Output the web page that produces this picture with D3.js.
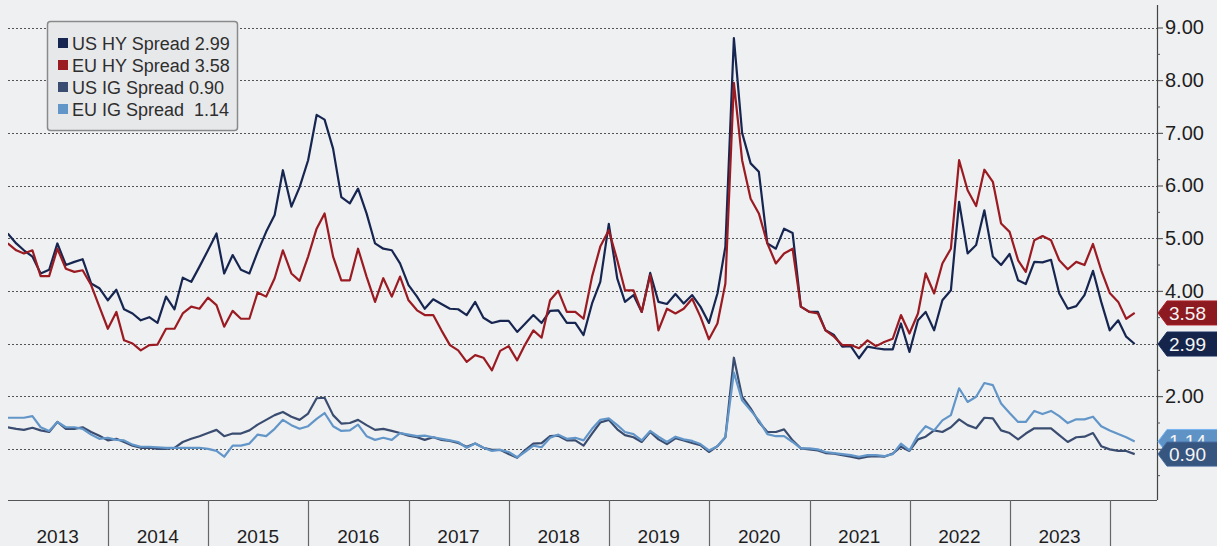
<!DOCTYPE html>
<html><head><meta charset="utf-8">
<script src="https://cdn.jsdelivr.net/npm/d3@7"></script>
<style>
html,body{margin:0;padding:0;background:#eff0f2;}
svg{display:block;font-family:"Liberation Sans",Arial,sans-serif;}
</style></head><body>
<svg id="chart" width="1217" height="546"></svg>
<script>
// ---- DATA (month-end values, Dec 2012 .. Mar 2024) ----
const firstMonth = {year: 2012, month: 12};
const usHY = [5.09,4.90,4.77,4.65,4.33,4.40,4.90,4.49,4.55,4.60,4.14,4.05,
3.82,4.02,3.65,3.57,3.44,3.50,3.39,3.89,3.65,4.25,4.17,4.46,
4.77,5.09,4.33,4.68,4.40,4.33,4.74,5.12,5.44,6.29,5.60,5.97,
6.48,7.34,7.25,6.70,5.78,5.66,5.94,5.47,4.90,4.80,4.77,4.52,
4.11,3.89,3.66,3.84,3.75,3.66,3.65,3.54,3.79,3.49,3.39,3.43,
3.43,3.22,3.37,3.54,3.39,3.62,3.63,3.39,3.39,3.16,3.76,4.17,
5.27,4.23,3.79,3.92,3.60,4.34,3.79,3.75,3.94,3.76,3.92,3.70,
3.39,3.95,4.84,8.80,7.00,6.42,6.26,4.90,4.80,5.18,5.10,3.70,
3.60,3.60,3.25,3.16,2.94,2.95,2.72,2.94,2.91,2.89,2.89,3.38,
2.84,3.44,3.60,3.25,3.82,4.01,5.69,4.71,4.87,5.53,4.65,4.49,
4.70,4.20,4.13,4.55,4.54,4.59,3.95,3.66,3.71,3.92,4.38,3.79,
3.25,3.44,3.13,2.99];
const euHY = [4.90,4.77,4.71,4.77,4.28,4.28,4.80,4.42,4.36,4.39,4.11,3.70,
3.28,3.60,3.06,3.00,2.87,2.97,2.98,3.28,3.28,3.57,3.70,3.66,
3.87,3.73,3.32,3.62,3.47,3.47,3.97,3.89,4.24,4.77,4.33,4.19,
4.65,5.18,5.47,4.65,4.20,4.20,4.80,4.27,3.79,4.24,3.89,4.27,
3.82,3.63,3.54,3.54,3.25,2.97,2.87,2.65,2.78,2.73,2.49,2.86,
2.95,2.68,2.97,3.25,3.11,3.82,4.00,3.60,3.60,3.47,4.27,4.84,
5.15,4.58,4.01,4.01,3.60,4.30,3.25,3.66,3.57,3.66,3.85,3.51,
3.08,3.38,4.14,7.95,6.48,5.75,5.47,4.90,4.52,4.71,4.80,3.70,
3.60,3.57,3.25,3.13,2.97,2.97,2.91,3.06,2.95,3.03,3.09,3.54,
3.19,3.57,4.33,3.95,4.52,4.80,6.48,5.91,5.61,6.30,6.07,5.28,
5.12,4.58,4.36,4.96,5.04,4.96,4.58,4.41,4.55,4.49,4.89,4.39,
3.96,3.79,3.47,3.58];
const usIG = [1.41,1.38,1.36,1.40,1.35,1.32,1.51,1.38,1.38,1.41,1.32,1.25,
1.16,1.19,1.13,1.06,1.02,1.02,1.00,1.00,1.02,1.13,1.19,1.24,
1.30,1.36,1.24,1.29,1.29,1.35,1.46,1.55,1.64,1.70,1.61,1.55,
1.67,1.96,1.97,1.64,1.48,1.49,1.55,1.45,1.36,1.38,1.34,1.30,
1.25,1.22,1.17,1.22,1.17,1.15,1.11,1.04,1.10,1.02,0.98,0.98,
0.90,0.83,0.97,1.10,1.11,1.24,1.25,1.16,1.16,1.06,1.29,1.50,
1.55,1.37,1.26,1.22,1.13,1.32,1.18,1.09,1.20,1.16,1.11,1.07,
0.94,1.05,1.22,2.73,1.99,1.77,1.51,1.32,1.32,1.37,1.16,1.01,
0.99,0.97,0.92,0.91,0.88,0.85,0.82,0.85,0.86,0.85,0.91,1.04,
0.96,1.18,1.23,1.35,1.32,1.41,1.56,1.45,1.39,1.59,1.58,1.35,
1.30,1.18,1.29,1.39,1.39,1.39,1.26,1.13,1.22,1.23,1.30,1.05,
0.99,0.96,0.96,0.90];
const euIG = [1.59,1.59,1.59,1.62,1.41,1.34,1.51,1.41,1.41,1.38,1.27,1.19,
1.21,1.17,1.16,1.08,1.04,1.04,1.03,1.02,1.02,1.02,1.02,1.02,
1.00,0.96,0.85,1.06,1.06,1.10,1.27,1.24,1.38,1.55,1.45,1.38,
1.43,1.57,1.68,1.43,1.34,1.35,1.46,1.24,1.17,1.21,1.17,1.30,
1.27,1.24,1.25,1.22,1.19,1.16,1.13,1.02,1.10,1.02,0.96,0.98,
0.94,0.84,0.94,1.06,1.03,1.21,1.27,1.19,1.21,1.16,1.38,1.55,
1.58,1.45,1.32,1.28,1.16,1.34,1.23,1.13,1.23,1.18,1.15,1.09,
0.97,1.05,1.22,2.45,1.92,1.73,1.54,1.28,1.24,1.24,1.13,1.01,
1.01,0.99,0.94,0.92,0.90,0.88,0.85,0.88,0.88,0.86,0.90,1.10,
0.97,1.26,1.43,1.35,1.54,1.64,2.15,1.89,1.99,2.25,2.21,1.86,
1.68,1.51,1.51,1.72,1.66,1.72,1.62,1.49,1.56,1.56,1.61,1.43,
1.35,1.28,1.22,1.14];
const seriesNames = ["US HY Spread", "EU HY Spread", "US IG Spread", "EU IG Spread"];
const legendValues = ["2.99", "3.58", "0.90", " 1.14"];
const badgeLabels = ["2.99", "3.58", "0.90", "1.14"];
const yearLabels = ["2013","2014","2015","2016","2017","2018","2019","2020","2021","2022","2023"];
const gridValues = [1,2,3,4,5,6,7,8,9];
const hiddenTickLabels = [1,3];
const minorTicks = [0.5,1.5,2.5,3.5,4.5,5.5,6.5,7.5,8.5];

// ---- STYLE ----
const colors = ["#172650", "#9a1b22", "#3a4d70", "#6396c8"];
const badgeFill = ["#14244a", "#8c1a20", "#36557f", "#5f93c6"];
const W = 1217, H = 546;
const plot = {left: 8, right: 1157, top: 5, bottom: 500};

const svg = d3.select("#chart");
svg.append("rect").attr("width", W).attr("height", H).attr("fill", "#eff0f2");

const dates = usHY.map((_, k) => new Date(firstMonth.year, firstMonth.month + k, 0));
const x = d3.scaleTime()
  .domain([new Date(2013, 0, 1), new Date(2024, 0, 1)])
  .range([8, 1110]);
const y = d3.scaleLinear().domain([0, 9]).range([501.5, 27.5]);

// clip
svg.append("clipPath").attr("id", "clip").append("rect")
  .attr("x", plot.left).attr("y", plot.top)
  .attr("width", plot.right - plot.left).attr("height", plot.bottom - plot.top);

// gridlines
svg.append("g").selectAll("line").data(gridValues).join("line")
  .attr("x1", plot.left).attr("x2", plot.right)
  .attr("y1", d => Math.round(y(d)) + 0.5).attr("y2", d => Math.round(y(d)) + 0.5)
  .attr("stroke", "#555").attr("stroke-width", 1).attr("stroke-dasharray", "2,2");

// lines
const line = d3.line().x((d, i) => x(dates[i])).y(d => y(d));
const series = [usIG, euIG, usHY, euHY];
const seriesColor = [colors[2], colors[3], colors[0], colors[1]];
const gl = svg.append("g").attr("clip-path", "url(#clip)");
series.forEach((s, i) => {
  gl.append("path").datum(s).attr("d", line)
    .attr("fill", "none").attr("stroke", seriesColor[i])
    .attr("stroke-width", 2.2).attr("stroke-linejoin", "round");
});

// bottom axis line and year dividers
svg.append("line").attr("x1", plot.left).attr("x2", plot.right)
  .attr("y1", plot.bottom + 0.5).attr("y2", plot.bottom + 0.5)
  .attr("stroke", "#555").attr("stroke-width", 1.2);
const divYears = d3.range(2014, 2025);
svg.append("g").selectAll("line").data(divYears).join("line")
  .attr("x1", d => Math.round(x(new Date(d, 0, 1))) + 0.5)
  .attr("x2", d => Math.round(x(new Date(d, 0, 1))) + 0.5)
  .attr("y1", plot.bottom).attr("y2", H)
  .attr("stroke", "#666").attr("stroke-width", 1.2);
svg.append("g").selectAll("text").data(yearLabels).join("text")
  .attr("x", d => x(new Date(+d, 6, 1)))
  .attr("y", 543)
  .attr("text-anchor", "middle")
  .attr("font-size", 19).attr("fill", "#1e1e1e")
  .text(d => d);

// right axis
svg.append("line").attr("x1", plot.right + 0.5).attr("x2", plot.right + 0.5)
  .attr("y1", plot.top).attr("y2", plot.bottom)
  .attr("stroke", "#444").attr("stroke-width", 1.2);
const axisMajor = d3.axisRight(y).tickValues(gridValues).tickSize(6).tickPadding(2)
  .tickFormat(d => hiddenTickLabels.includes(d) ? "" : d3.format(".2f")(d));
const gA = svg.append("g").attr("transform", `translate(${plot.right},0)`).call(axisMajor);
gA.select(".domain").remove();
gA.selectAll("line").attr("stroke", "#444");
gA.selectAll("text").attr("font-size", 20).attr("fill", "#1e1e1e")
  .attr("font-family", "Liberation Sans, Arial, sans-serif");
const axisMinor = d3.axisRight(y).tickValues(minorTicks).tickSize(3).tickFormat("");
const gM = svg.append("g").attr("transform", `translate(${plot.right},0)`).call(axisMinor);
gM.select(".domain").remove();
gM.selectAll("line").attr("stroke", "#555");

// badges
const lastVals = [usHY, euHY, usIG, euIG].map(s => s[s.length - 1]);
const badgeOrder = [3, 2, 1, 0];
badgeOrder.forEach(i => {
  const cy = y(lastVals[i]);
  const x0 = plot.right + 1, h = 12;
  const g = svg.append("g");
  g.append("path")
    .attr("d", `M${x0},${cy} L${x0 + 9},${cy - h} L${W + 2},${cy - h} L${W + 2},${cy + h} L${x0 + 9},${cy + h} Z`)
    .attr("fill", badgeFill[i]).attr("stroke", d3.color(badgeFill[i]).brighter(0.6)).attr("stroke-width", 1);
  g.append("text").attr("x", x0 + 11).attr("y", cy + 7)
    .attr("font-size", 19).attr("fill", "#f4f4f4").text(badgeLabels[i]);
});

// legend
const lg = svg.append("g");
lg.append("rect").attr("x", 47.5).attr("y", 21.5).attr("width", 190).attr("height", 109)
  .attr("rx", 3).attr("fill", "#e7e8ea").attr("stroke", "#8a8a8a").attr("stroke-width", 1.5);
seriesNames.forEach((n, i) => {
  const cy = 43 + i * 22;
  lg.append("rect").attr("x", 58).attr("y", cy - 5).attr("width", 10).attr("height", 10)
    .attr("fill", colors[i]);
  lg.append("text").attr("x", 72).attr("y", cy + 6.5)
    .attr("font-size", 18).attr("fill", "#2e2e2e")
    .style("white-space", "pre")
    .text(n + " " + legendValues[i]);
});
</script>
</body></html>
